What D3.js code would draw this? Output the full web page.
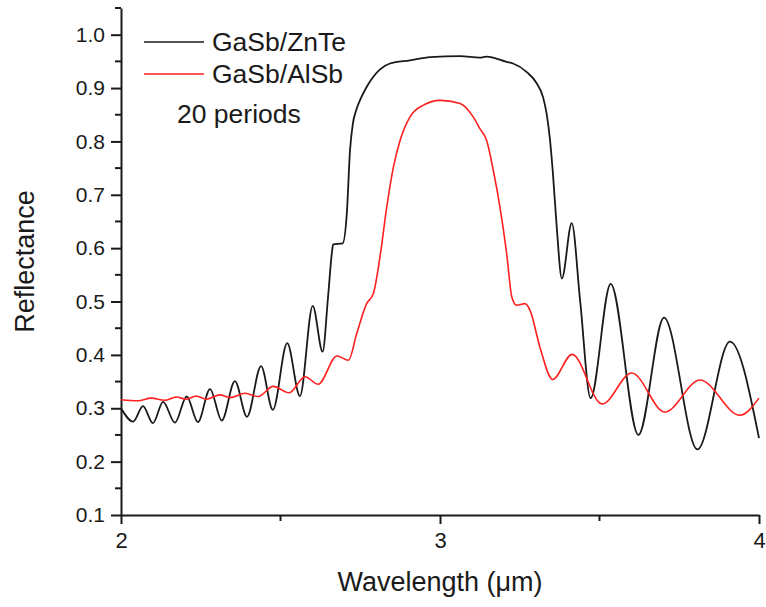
<!DOCTYPE html>
<html>
<head>
<meta charset="utf-8">
<script src="https://cdn.jsdelivr.net/npm/d3@7"></script>
<style>
  html, body { margin: 0; padding: 0; background: #fff; }
  svg { display: block; font-family: "Liberation Sans", Arial, sans-serif; }
</style>
</head>
<body>
<svg id="chart" width="766" height="607"></svg>
<script>
// Reflectance spectra of 20-period Bragg mirrors
const seriesNames = ["GaSb/ZnTe", "GaSb/AlSb"];
const seriesColors = ["#1a1a1a", "#ff2020"];

const wavelengthZnTe = [2.000, 2.038, 2.069, 2.100, 2.132, 2.169, 2.206, 2.241, 2.279, 2.316,
  2.357, 2.395, 2.439, 2.476, 2.521, 2.561, 2.601, 2.632, 2.649, 2.661,
  2.665, 2.695, 2.708, 2.718, 2.727, 2.737, 2.749, 2.770, 2.812, 2.843,
  2.906, 2.969, 3.063, 3.125, 3.146, 3.209, 3.229, 3.272, 3.303, 3.323,
  3.334, 3.345, 3.354, 3.366, 3.382, 3.413, 3.439, 3.472, 3.535, 3.622,
  3.702, 3.807, 3.909, 4.000];
const reflectanceZnTe = [0.300, 0.275, 0.304, 0.272, 0.312, 0.273, 0.322, 0.274, 0.336, 0.277,
  0.351, 0.284, 0.379, 0.297, 0.422, 0.323, 0.492, 0.406, 0.508, 0.591,
  0.607, 0.609, 0.666, 0.784, 0.834, 0.858, 0.877, 0.902, 0.935, 0.946,
  0.952, 0.958, 0.960, 0.957, 0.959, 0.949, 0.946, 0.930, 0.909, 0.883,
  0.853, 0.802, 0.740, 0.639, 0.543, 0.647, 0.503, 0.319, 0.533, 0.250,
  0.470, 0.223, 0.425, 0.244];

const wavelengthAlSb = [2.000, 2.053, 2.095, 2.137, 2.173, 2.205, 2.236, 2.267, 2.310, 2.342,
  2.389, 2.430, 2.477, 2.527, 2.577, 2.618, 2.677, 2.713, 2.739, 2.770,
  2.791, 2.812, 2.833, 2.854, 2.875, 2.906, 2.948, 3.000, 3.063, 3.104,
  3.125, 3.146, 3.167, 3.188, 3.209, 3.225, 3.240, 3.266, 3.282, 3.313,
  3.353, 3.414, 3.508, 3.601, 3.705, 3.815, 3.940, 4.000];
const reflectanceAlSb = [0.316, 0.314, 0.319, 0.315, 0.321, 0.317, 0.323, 0.317, 0.325, 0.320,
  0.328, 0.322, 0.341, 0.329, 0.359, 0.345, 0.398, 0.390, 0.440, 0.496,
  0.515, 0.584, 0.677, 0.752, 0.802, 0.846, 0.868, 0.877, 0.871, 0.846,
  0.824, 0.802, 0.746, 0.677, 0.590, 0.509, 0.493, 0.496, 0.484, 0.415,
  0.354, 0.401, 0.308, 0.366, 0.293, 0.353, 0.287, 0.319];

const xTickValues = [2, 3, 4];
const xMinorTicks = [2.5, 3.5];
const yTickValues = [0.1, 0.2, 0.3, 0.4, 0.5, 0.6, 0.7, 0.8, 0.9, 1.0];
const yMinorTicks = [0.15, 0.25, 0.35, 0.45, 0.55, 0.65, 0.75, 0.85, 0.95, 1.05];

const svg = d3.select("#chart");
const plotLeft = 121, plotRight = 759, plotTop = 8, plotBottom = 515;

const x = d3.scaleLinear().domain([2, 4]).range([plotLeft, plotRight]);
const y = d3.scaleLinear().domain([0.1, 1.05]).range([plotBottom, plotTop]);

const axisColor = "#1a1a1a";
const textColor = "#1a1a1a";

// y axis with minor ticks
const yAxis = svg.append("g").attr("transform", `translate(${plotLeft},0)`)
  .call(d3.axisLeft(y).tickValues(yTickValues).tickFormat(d3.format(".1f"))
    .tickSize(10).tickSizeOuter(0).tickPadding(6));
yAxis.append("g").attr("class", "minor").selectAll("line").data(yMinorTicks).join("line")
  .attr("x1", -6).attr("x2", 0).attr("y1", d => y(d)).attr("y2", d => y(d));
yAxis.attr("font-size", 21).attr("font-family", "Liberation Sans, Arial, sans-serif");

// x axis with minor ticks
const xAxis = svg.append("g").attr("transform", `translate(0,${plotBottom})`)
  .call(d3.axisBottom(x).tickValues(xTickValues).tickFormat(d3.format("d"))
    .tickSize(9).tickSizeOuter(0).tickPadding(8));
xAxis.append("g").attr("class", "minor").selectAll("line").data(xMinorTicks).join("line")
  .attr("x1", d => x(d)).attr("x2", d => x(d)).attr("y1", 0).attr("y2", 6);
xAxis.attr("font-size", 22).attr("font-family", "Liberation Sans, Arial, sans-serif");

svg.selectAll(".domain").attr("stroke", axisColor).attr("stroke-width", 2);
svg.selectAll(".tick line, .minor line").attr("stroke", axisColor).attr("stroke-width", 2);
svg.selectAll(".tick text").attr("fill", textColor);

// axis titles
svg.append("text")
  .attr("x", (plotLeft + plotRight) / 2).attr("y", 591)
  .attr("text-anchor", "middle").attr("font-size", 27).attr("fill", textColor)
  .text("Wavelength (μm)");
svg.append("text")
  .attr("transform", `translate(34,${(plotTop + plotBottom) / 2}) rotate(-90)`)
  .attr("text-anchor", "middle").attr("font-size", 27).attr("fill", textColor)
  .text("Reflectance");

// spectra
const line = d3.line().x(d => x(d[0])).y(d => y(d[1])).curve(d3.curveMonotoneX);
const series = [
  d3.zip(wavelengthZnTe, reflectanceZnTe),
  d3.zip(wavelengthAlSb, reflectanceAlSb)
];
svg.append("g").selectAll("path").data(series).join("path")
  .attr("d", line)
  .attr("fill", "none")
  .attr("stroke", (d, i) => seriesColors[i])
  .attr("stroke-width", (d, i) => i === 0 ? 1.8 : 1.6)
  .attr("stroke-linejoin", "round");

// legend
const legend = svg.append("g");
seriesNames.forEach((name, i) => {
  const ly = 42 + i * 32;
  legend.append("line").attr("x1", 144).attr("x2", 204).attr("y1", ly).attr("y2", ly)
    .attr("stroke", seriesColors[i]).attr("stroke-width", 1.6);
  legend.append("text").attr("x", 212).attr("y", ly + 9)
    .attr("font-size", 26.5).attr("fill", textColor).text(name);
});
legend.append("text").attr("x", 177).attr("y", 123)
  .attr("font-size", 26.5).attr("fill", textColor).text("20 periods");
</script>
</body>
</html>
